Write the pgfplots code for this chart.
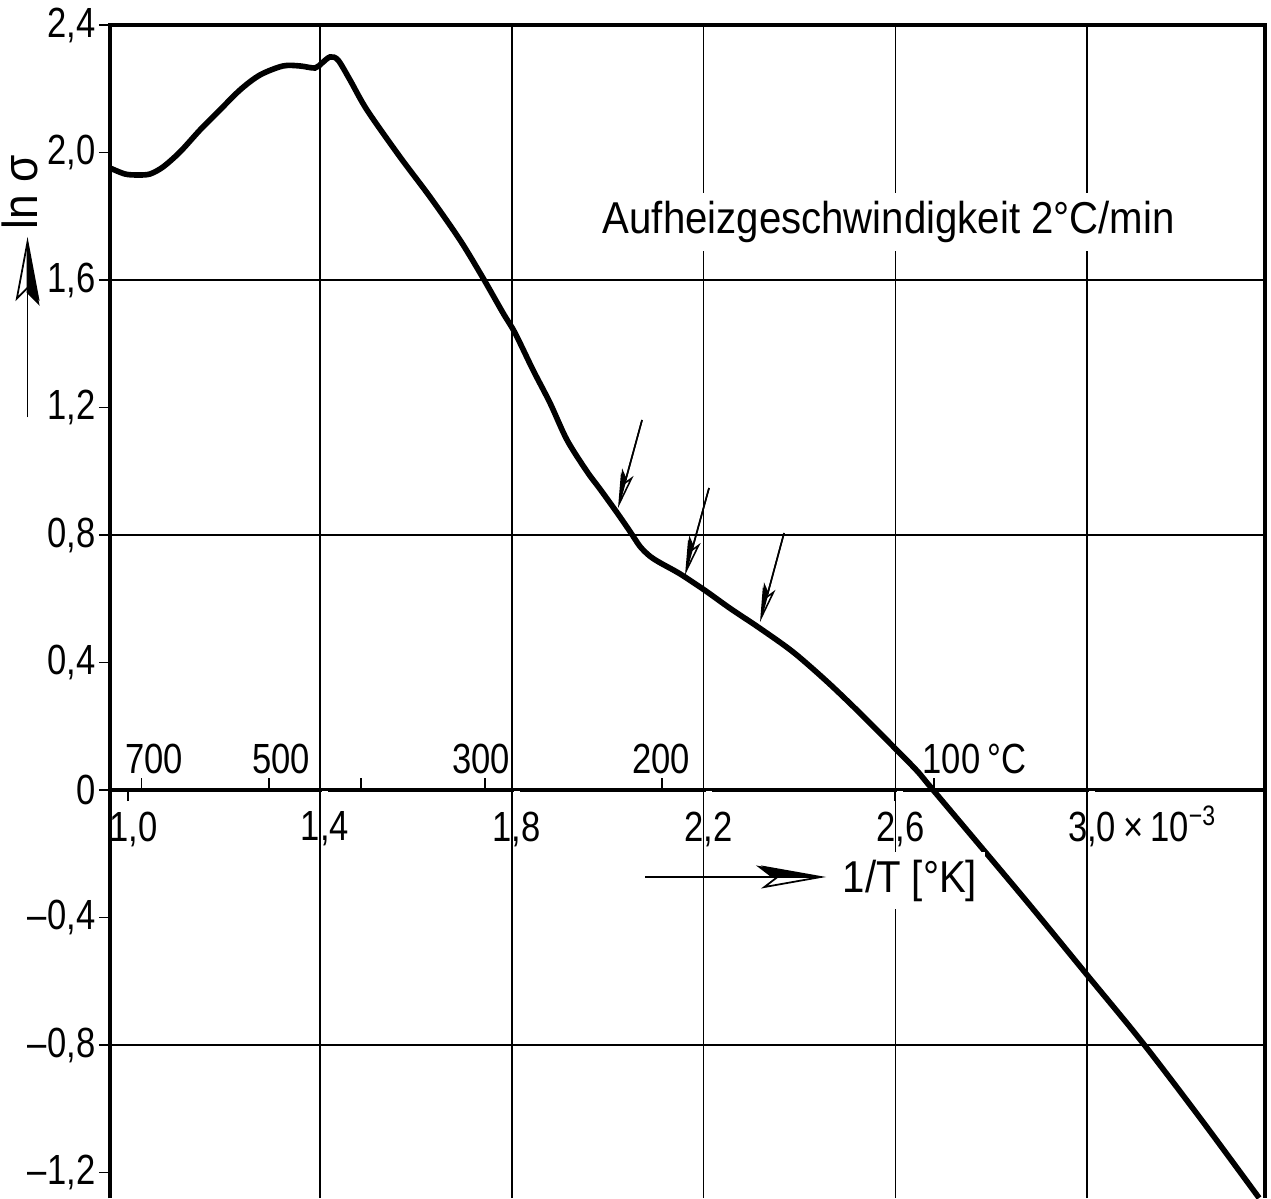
\documentclass[border=0pt]{standalone}
\usepackage{fontspec}
\setmainfont{Liberation Sans}[FakeStretch=0.9]
\newfontfamily\narrow{Liberation Sans}[FakeStretch=0.82]
\usepackage{pgfplots}
\usepackage{pgfplotstable}
\pgfplotsset{compat=1.18}
\usetikzlibrary{arrows.meta}

\pgfplotstableread{
x y
0.9620 1.9514
0.9932 1.9325
1.0204 1.9294
1.0454 1.9325
1.0725 1.9545
1.1080 2.0016
1.1497 2.0706
1.1851 2.1239
1.2331 2.1961
1.2748 2.2431
1.3228 2.2714
1.3583 2.2714
1.3896 2.2651
1.4042 2.2808
1.4209 2.2996
1.4375 2.2902
1.4626 2.2275
1.4980 2.1333
1.5669 1.9859
1.6295 1.8604
1.6920 1.7255
1.7400 1.6063
1.7817 1.4965
1.8068 1.4337
1.8443 1.3176
1.8798 1.2141
1.9152 1.0980
1.9569 0.9990
1.9841 0.9440
2.0195 0.8700
2.0466 0.8110
2.0675 0.7640
2.0884 0.7330
2.1092 0.7130
2.1509 0.6780
2.2031 0.6260
2.2552 0.5700
2.3178 0.5070
2.3866 0.4330
2.4576 0.3400
2.5264 0.2410
2.5952 0.1370
2.6453 0.0600
2.6787 0.0000
2.8664 -0.3357
3.0000 -0.5804
3.1146 -0.7906
3.2356 -1.0290
3.3587 -1.2800
}\curve

\newcommand{\lbl}{\narrow\fontsize{12}{13}\selectfont}
\newcommand{\txt}{\fontsize{12.7}{13}\selectfont}

\begin{document}
\begin{tikzpicture}
\begin{axis}[
  scale only axis,
  width=115.5mm, height=117.3mm,
  xmin=0.962, xmax=3.371, ymin=-1.28, ymax=2.4,
  axis x line*=middle,
  axis y line*=left,
  axis line style={line width=1.3pt},
  xtick={1.0,1.4,1.8,2.2,2.6,3.0},
  xticklabels={{1,0},{1,4},{1,8},{2,2},{2,6},{3,0\rlap{\smash{\,×\,10\textsuperscript{−3}}}}},
  ytick={-1.2,-0.8,-0.4,0,0.4,0.8,1.2,1.6,2.0,2.4},
  yticklabels={{–1,2},{–0,8},{–0,4},0,{0,4},{0,8},{1,2},{1,6},{2,0},{2,4}},
  tick align=outside,
  major tick length=1.1mm,
  tick style={line width=0.5pt, black},
  ticklabel style={font=\lbl},
  yticklabel style={inner xsep=0.3mm},
  xticklabel style={fill=white, inner xsep=0.3mm, inner ysep=1mm, xshift=0.5mm},
  extra x ticks={1.4,1.8,2.2,2.6,3.0},
  extra x tick labels={},
  extra x tick style={grid=major, major tick length=0pt},
  extra y ticks={-0.8,0.8,1.6},
  extra y tick labels={},
  extra y tick style={grid=major, major tick length=0pt},
  grid style={line width=0.45pt, black},
  clip mode=individual,
]
\addplot[line width=1.6pt, smooth, tension=0.5] table {\curve};

% frame
\draw[line width=1.3pt] (rel axis cs:0,0) -- (rel axis cs:0,1) -- (rel axis cs:1,1) -- (rel axis cs:1,0);

% Celsius scale ticks on the zero line
\draw[line width=0.5pt] (axis cs:1.0276,0) -- ([yshift=1.2mm]axis cs:1.0276,0);
\draw[line width=0.5pt] (axis cs:1.2934,0) -- ([yshift=1.2mm]axis cs:1.2934,0);
\draw[line width=0.5pt] (axis cs:1.4856,0) -- ([yshift=1.2mm]axis cs:1.4856,0);
\draw[line width=0.5pt] (axis cs:1.7448,0) -- ([yshift=1.2mm]axis cs:1.7448,0);
\draw[line width=0.5pt] (axis cs:2.1135,0) -- ([yshift=1.2mm]axis cs:2.1135,0);
\draw[line width=0.5pt] (axis cs:2.6799,0) -- ([yshift=1.2mm]axis cs:2.6799,0);
\node[anchor=base, font=\lbl, inner sep=0pt] at (axis cs:1.0537,0.0533) {700};
\node[anchor=base, font=\lbl, inner sep=0pt] at (axis cs:1.3187,0.0533) {500};
\node[anchor=base, font=\lbl, inner sep=0pt] at (axis cs:1.7358,0.0533) {300};
\node[anchor=base, font=\lbl, inner sep=0pt] at (axis cs:2.1113,0.0533) {200};
\node[anchor=base west, font=\lbl, inner sep=0pt] at (axis cs:2.6557,0.0533) {100\,°C};

% annotation text
\node[anchor=base west, fill=white, inner sep=0.8mm, font=\txt] at (axis cs:1.9716,1.7456) {Aufheizgeschwindigkeit 2°C/min};
\node[anchor=base west, fill=white, inner sep=0.8mm, font=\txt] at (axis cs:2.4722,-0.320) {1/T [°K]};
\draw[line width=0.5pt, -{Stealth[length=6.5mm,width=2.3mm,inset=1.5mm,open]}] (axis cs:2.0779,-0.2729) -- (axis cs:2.4555,-0.2729);
\draw[line width=0.5pt, -{Stealth[length=6.5mm,width=2.3mm,inset=1.5mm,left]}] (axis cs:2.0779,-0.2729) -- (axis cs:2.4555,-0.2729);

% y label with arrow
\node[rotate=90, font=\fontsize{14}{15}\selectfont, inner sep=0pt] at (axis cs:0.7740,1.875) {ln σ};
\draw[line width=0.5pt, -{Stealth[length=6.4mm,width=2.4mm,inset=1.2mm,open]}] (axis cs:0.790,1.170) -- (axis cs:0.790,1.735);
\draw[line width=0.5pt, -{Stealth[length=6.4mm,width=2.4mm,inset=1.2mm,right]}] (axis cs:0.790,1.170) -- (axis cs:0.790,1.735);

% arrows pointing at the curve
\draw[line width=0.45pt, -{Stealth[length=3.5mm,width=1.3mm,inset=0.8mm,open]}] (axis cs:2.0717,1.1608) -- (axis cs:2.0216,0.8847);
\draw[line width=0.45pt, -{Stealth[length=3.5mm,width=1.3mm,inset=0.8mm,right]}] (axis cs:2.0717,1.1608) -- (axis cs:2.0216,0.8847);
\draw[line width=0.45pt, -{Stealth[length=3.5mm,width=1.3mm,inset=0.8mm,open]}] (axis cs:2.2114,0.9475) -- (axis cs:2.1614,0.6745);
\draw[line width=0.45pt, -{Stealth[length=3.5mm,width=1.3mm,inset=0.8mm,right]}] (axis cs:2.2114,0.9475) -- (axis cs:2.1614,0.6745);
\draw[line width=0.45pt, -{Stealth[length=3.5mm,width=1.3mm,inset=0.8mm,open]}] (axis cs:2.3679,0.8063) -- (axis cs:2.3178,0.5271);
\draw[line width=0.45pt, -{Stealth[length=3.5mm,width=1.3mm,inset=0.8mm,right]}] (axis cs:2.3679,0.8063) -- (axis cs:2.3178,0.5271);
\end{axis}
\pgfresetboundingbox
\path ([xshift=-11mm]current axis.south west) rectangle ([xshift=0.6mm,yshift=2.5mm]current axis.north east);
\end{tikzpicture}
\end{document}
